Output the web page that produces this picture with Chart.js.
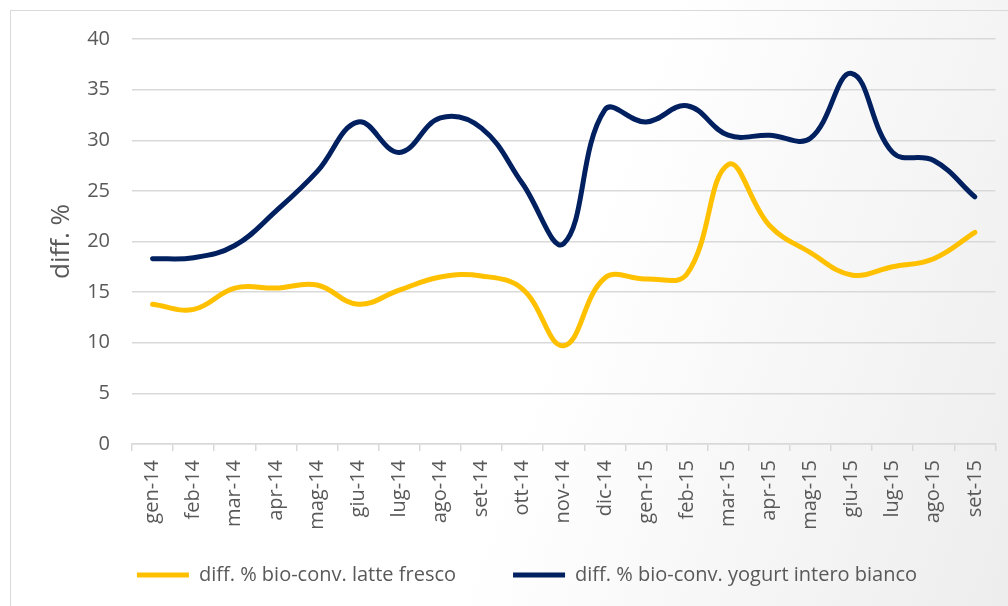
<!DOCTYPE html>
<html>
<head>
<meta charset="utf-8">
<script src="https://cdn.jsdelivr.net/npm/chart.js@4.4.1/dist/chart.umd.min.js"></script>
<style>
  html, body { margin: 0; padding: 0; overflow: hidden; background: #fff; }
  #box {
    position: relative; width: 1008px; height: 606px;
    background: linear-gradient(110deg, #ffffff 0%, #ffffff 55%, #ededed 100%);
  }
  #cornice {
    position: absolute; left: 10px; top: 10px; width: 1010px; height: 620px;
    border: 1px solid #d9d9d9; box-sizing: border-box;
  }
  canvas { position: absolute; left: 0; top: 0; }
</style>
</head>
<body>
<div id="box">
  <div id="cornice"></div>
  <canvas id="grafico" width="1008" height="606"></canvas>
</div>
<script>
// Dati
const mesi = ['gen-14', 'feb-14', 'mar-14', 'apr-14', 'mag-14', 'giu-14', 'lug-14', 'ago-14', 'set-14', 'ott-14', 'nov-14',
  'dic-14', 'gen-15', 'feb-15', 'mar-15', 'apr-15', 'mag-15', 'giu-15', 'lug-15', 'ago-15', 'set-15'];
const latteFresco = [13.8, 13.3, 15.4, 15.4, 15.7, 13.8, 15.2, 16.5, 16.6, 15.3, 9.7,
  16.4, 16.3, 16.8, 27.6, 21.6, 18.9, 16.7, 17.5, 18.3, 20.9];
const yogurtBianco = [18.3, 18.4, 19.6, 23.0, 26.9, 31.8, 28.8, 32.2, 31.2, 25.7, 19.8,
  33.0, 31.8, 33.4, 30.5, 30.5, 30.2, 36.6, 28.8, 28.0, 24.4];
const tickY = [0, 5, 10, 15, 20, 25, 30, 35, 40];

const grigioTesto = '#595959';
const grigioLinee = '#d9d9d9';

// legenda: niente altezza extra, poi la sposto dove serve
const pluginLegenda = {
  id: 'posLegenda',
  beforeLayout(chart) {
    const lg = chart.legend;
    if (lg && !lg._patch) {
      const fitOrig = lg.fit;
      lg.fit = function () { fitOrig.call(this); this.height = 62; };
      lg._patch = true;
    }
  },
  afterLayout(chart) {
    const lg = chart.legend;
    lg.top = 508; lg.bottom = 606;
    lg.left += 3; lg.right += 3;
  }
};

const ctx = document.getElementById('grafico').getContext('2d');
const grafico = new Chart(ctx, {
  type: 'line',
  data: {
    labels: mesi,
    datasets: [{
      label: 'diff. % bio-conv. latte fresco',
      data: latteFresco,
      borderColor: '#ffc000',
      backgroundColor: '#ffc000',
      borderWidth: 5,
      borderCapStyle: 'round',
      borderJoinStyle: 'round',
      pointRadius: 0,
      tension: 0.4,
      fill: false
    }, {
      label: 'diff. % bio-conv. yogurt intero bianco',
      data: yogurtBianco,
      borderColor: '#002060',
      backgroundColor: '#002060',
      borderWidth: 5,
      borderCapStyle: 'round',
      borderJoinStyle: 'round',
      pointRadius: 0,
      tension: 0.4,
      fill: false
    }]
  },
  options: {
    responsive: false,
    animation: false,
    layout: { padding: { left: 46, right: 6, top: 39, bottom: 0 } },
    plugins: {
      tooltip: { enabled: false },
      legend: {
        position: 'bottom',
        labels: {
          usePointStyle: true,
          pointStyle: 'line',
          pointStyleWidth: 52,
          boxHeight: 20,
          padding: 57,
          color: grigioTesto,
          font: { family: 'Open Sans', size: 20 }
        }
      }
    },
    scales: {
      x: {
        offset: true,
        grid: { offset: true, drawOnChartArea: false, color: grigioLinee, lineWidth: 1.5, tickLength: 7 },
        border: { color: grigioLinee, width: 1.5 },
        ticks: {
          minRotation: 90, maxRotation: 90, autoSkip: false, padding: 9,
          color: grigioTesto, font: { family: 'Open Sans', size: 20 }
        },
        afterFit(scale) { scale.height = 100; }
      },
      y: {
        min: 0, max: 40,
        afterBuildTicks(scale) { scale.ticks = tickY.map(v => ({ value: v })); },
        grid: { color: grigioLinee, lineWidth: 1.5, drawTicks: false },
        border: { display: false },
        ticks: { padding: 22, color: grigioTesto, font: { family: 'Open Sans', size: 20 } },
        title: {
          display: true, text: 'diff. %', color: grigioTesto,
          font: { family: 'Open Sans', size: 26 }, padding: 0
        },
        afterFit(scale) { scale.width = 86; }
      }
    }
  },
  plugins: [pluginLegenda]
});
</script>
</body>
</html>
